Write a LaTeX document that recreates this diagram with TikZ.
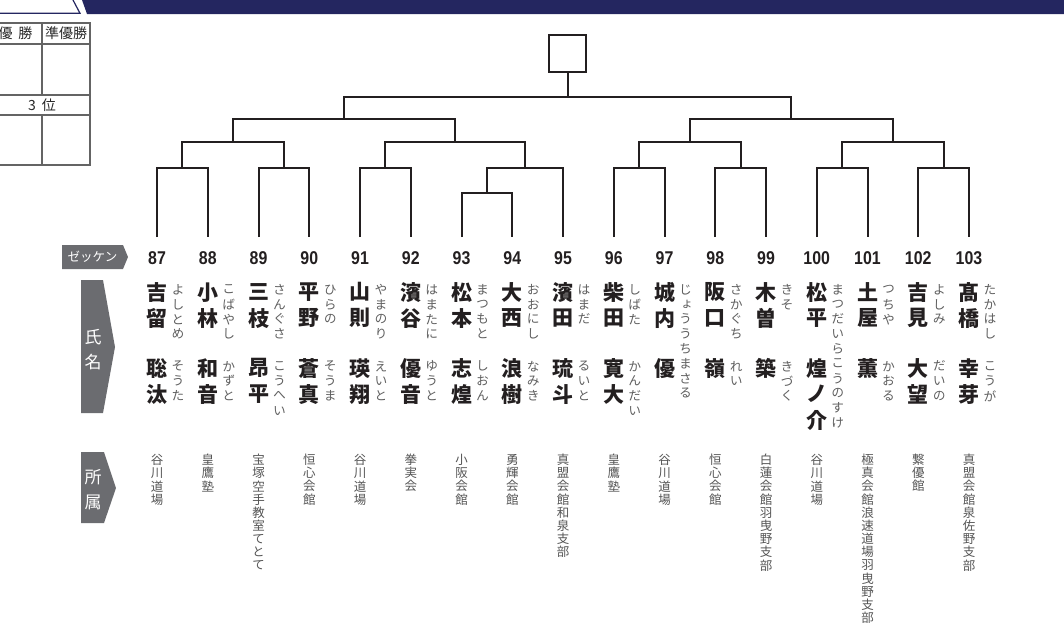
\documentclass[tikz,border=0pt]{standalone}
\usepackage{fontspec}
\newfontfamily\jp{Noto Sans CJK JP}
\newfontfamily\jpv[RawFeature=+vert]{Noto Sans CJK JP}
\newfontfamily\numf[FakeStretch=0.86]{Liberation Sans}
\definecolor{navy}{RGB}{36,38,96}
\definecolor{ink}{RGB}{35,31,32}
\definecolor{labgray}{RGB}{107,108,112}
\definecolor{kanagray}{RGB}{95,95,95}
\definecolor{affgray}{RGB}{85,85,85}
\definecolor{tabline}{RGB}{100,100,100}
\definecolor{tabink}{RGB}{40,40,40}
\let\vend\relax
\def\vstk#1#2{\vbox{\offinterlineskip\def\vpitch{#1}\edef\vlist{#2}\expandafter\vloop\vlist\vend}}
\def\vloop#1{\ifx#1\vend\else\hbox to 1em{\hss\vbox to \vpitch{\vfil\hbox{#1}\vfil}\hss}\expandafter\vloop\fi}
\begin{document}
\begin{tikzpicture}[x=1pt,y=-1pt,
 brk/.style={draw=ink,line width=2pt},
 num/.style={font=\numf\bfseries\fontsize{18.5}{18.5}\selectfont,text=ink,inner sep=0pt},
 namef/.style={font=\jp\bfseries\fontsize{21}{21}\selectfont,text=ink,inner sep=0pt,anchor=north},
 kana/.style={font=\jpv\fontsize{12.8}{12.8}\selectfont,text=kanagray,inner sep=0pt,anchor=north},
 aff/.style={font=\jpv\fontsize{12.5}{12.5}\selectfont,text=affgray,inner sep=0pt,anchor=north},
 labtxt/.style={font=\jp\fontsize{17}{17}\selectfont,text=white,inner sep=0pt},
 tabtxt/.style={font=\jp\fontsize{14}{14}\selectfont,text=tabink,inner sep=0pt},
 tab/.style={draw=tabline,line width=1.2pt},
 winbox/.style={draw=ink,line width=2pt,minimum width=37pt,minimum height=37pt,inner sep=0pt}]
\useasboundingbox (0,0) rectangle (1064,630);
% header band
\draw[navy,line width=1.2pt] (0,13.3) -- (80,13.3) -- (73,0);
\fill[navy] (82,0) -- (1064,0) -- (1064,14) -- (87,14) -- cycle;
% result table
\draw[tab] (-5,23) rectangle (90,165);
\draw[tab] (-5,44) -- (90,44) (-5,95) -- (90,95) (-5,115) -- (90,115);
\draw[tab] (42,23) -- (42,95) (42,115) -- (42,165);
\node[tabtxt] (t1) at (15.5,33.5) {優\hspace{6pt}勝};
\node[tabtxt] (t2) at (66,33.5) {準優勝};
\node[tabtxt] (t3) at (42,105) {3\hspace{6pt}位};
% labels
\fill[labgray] (62,245) -- (123,245) -- (128,257) -- (123,269) -- (62,269) -- cycle;
\node[font=\jp\fontsize{12.5}{12.5}\selectfont,text=white,inner sep=0pt] (zk) at (92.5,257) {ゼッケン};
\fill[labgray] (81,280) -- (103,280) -- (115,347) -- (103,413) -- (81,413) -- cycle;
\node[labtxt] (sm) at (93,349.5) {\vstk{25pt}{氏名}};
\fill[labgray] (81,452) -- (104,452) -- (116,488) -- (104,523) -- (81,523) -- cycle;
\node[labtxt] (sz) at (93,489.5) {\vstk{25pt}{所属}};
% players
\foreach \k/\nn/\sn/\sk/\gn/\gk/\ff in {
0/87/吉留/よしとめ/聡汰/そうた/谷川道場,
1/88/小林/こばやし/和音/かずと/皇鷹塾,
2/89/三枝/さんぐさ/昂平/こうへい/宝塚空手教室てとて,
3/90/平野/ひらの/蒼真/そうま/恒心会館,
4/91/山則/やまのり/瑛翔/えいと/谷川道場,
5/92/濱谷/はまたに/優音/ゆうと/拳実会,
6/93/松本/まつもと/志煌/しおん/小阪会館,
7/94/大西/おおにし/浪樹/なみき/勇輝会館,
8/95/濱田/はまだ/琉斗/るいと/真盟会館和泉支部,
9/96/柴田/しばた/寛大/かんだい/皇鷹塾,
10/97/城内/じょううちまさる/優//谷川道場,
11/98/阪口/さかぐち/嶺/れい/恒心会館,
12/99/木曽/きそ/築/きづく/白蓮会館羽曳野支部,
13/100/松平/まつだいらこうのすけ/煌ノ介//谷川道場,
14/101/土屋/つちや/薫/かおる/極真会館浪速道場羽曳野支部,
15/102/吉見/よしみ/大望/だいの/繋優館,
16/103/髙橋/たかはし/幸芽/こうが/真盟会館泉佐野支部}{
  \coordinate (L\nn) at ({157+\k*50.75},237);
  \node[num] (n\nn) at ({157+\k*50.75},258) {\nn};
  \node[namef] (s\nn) at ({157+\k*50.75},279) {\vstk{26pt}{\sn}};
  \node[kana] (sk\nn) at ({178+\k*50.75},282) {\vstk{14.8pt}{\sk}};
  \node[namef] (g\nn) at ({157+\k*50.75},355) {\vstk{26pt}{\gn}};
  \node[kana] (gk\nn) at ({178+\k*50.75},358.6) {\vstk{14.8pt}{\gk}};
  \node[aff] (f\nn) at ({157+\k*50.75},453) {\vstk{13.2pt}{\ff}};
}
% bracket junctions
\coordinate (a1) at (182.4,168);
\coordinate (a2) at (283.9,168);
\coordinate (a3) at (385.4,168);
\coordinate (s4) at (486.9,193);
\coordinate (a4) at (524.9,168);
\coordinate (a5) at (639.1,168);
\coordinate (a6) at (740.6,168);
\coordinate (a7) at (842.1,168);
\coordinate (a8) at (943.6,168);
\coordinate (b1) at (233.2,142);
\coordinate (b2) at (455.1,142);
\coordinate (b3) at (689.9,142);
\coordinate (b4) at (892.9,142);
\coordinate (c1) at (344.1,119);
\coordinate (c2) at (791.4,119);
\coordinate (fin) at (567.8,97);
\node[winbox] (win) at (567.8,53) {};
\draw[brk] (L87) |- (a1) -| (L88);
\draw[brk] (L89) |- (a2) -| (L90);
\draw[brk] (L91) |- (a3) -| (L92);
\draw[brk] (L93) |- (s4) -| (L94);
\draw[brk] (s4) |- (a4) -| (L95);
\draw[brk] (L96) |- (a5) -| (L97);
\draw[brk] (L98) |- (a6) -| (L99);
\draw[brk] (L100) |- (a7) -| (L101);
\draw[brk] (L102) |- (a8) -| (L103);
\draw[brk] (a1) |- (b1) -| (a2);
\draw[brk] (a3) |- (b2) -| (a4);
\draw[brk] (a5) |- (b3) -| (a6);
\draw[brk] (a7) |- (b4) -| (a8);
\draw[brk] (b1) |- (c1) -| (b2);
\draw[brk] (b3) |- (c2) -| (b4);
\draw[brk] (c1) |- (fin) -| (c2);
\draw[brk] (fin) -- (win.south);
\end{tikzpicture}
\end{document}
